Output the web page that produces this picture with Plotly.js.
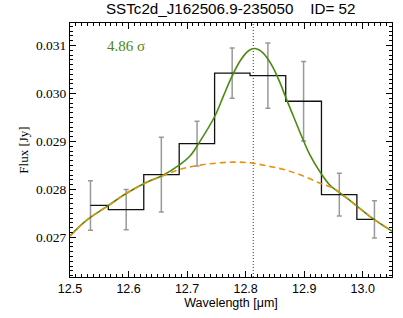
<!DOCTYPE html>
<html>
<head>
<meta charset="utf-8">
<script src="https://cdn.plot.ly/plotly-3.0.1.min.js"></script>
<style>html,body{margin:0;padding:0;background:#fff;}#chart{width:403px;height:318px;}</style>
</head>
<body>
<div id="chart"></div>
<script>
// Binned flux data (microns, Jy)
const wavelength = [12.535, 12.596, 12.656, 12.717, 12.777, 12.838, 12.899, 12.960, 13.020];
const flux = [0.027665, 0.027579, 0.028309, 0.028955, 0.030423, 0.030370, 0.029837, 0.027891, 0.027374];
const fluxErr = [0.000515, 0.000418, 0.000778, 0.000466, 0.000523, 0.000679, 0.000830, 0.000445, 0.000387];

// Fitted model (gaussian + continuum)
const fitX = [12.500, 12.528, 12.562, 12.596, 12.630, 12.659, 12.687, 12.705, 12.722, 12.748, 12.762, 12.777, 12.791, 12.805, 12.816, 12.830, 12.845, 12.859, 12.870, 12.882, 12.896, 12.910, 12.927, 12.944, 12.961, 12.978, 12.995, 13.012, 13.030, 13.050];
const fitY = [0.027031, 0.027355, 0.027634, 0.027914, 0.028144, 0.028296, 0.028510, 0.028695, 0.029000, 0.029540, 0.029945, 0.030365, 0.030685, 0.030890, 0.030935, 0.030841, 0.030580, 0.030214, 0.029870, 0.029515, 0.029097, 0.028714, 0.028365, 0.028087, 0.027926, 0.027770, 0.027603, 0.027439, 0.027286, 0.027130];

// Continuum only
const contX = [12.500, 12.528, 12.562, 12.596, 12.630, 12.659, 12.687, 12.713, 12.745, 12.777, 12.808, 12.836, 12.865, 12.893, 12.924, 12.950, 12.978, 13.012, 13.050];
const contY = [0.027031, 0.027355, 0.027634, 0.027914, 0.028140, 0.028285, 0.028415, 0.028488, 0.028541, 0.028568, 0.028553, 0.028491, 0.028415, 0.028307, 0.028144, 0.028018, 0.027770, 0.027439, 0.027130];

const lineCenter = 12.813;
const xTicks = [12.5, 12.6, 12.7, 12.8, 12.9, 13.0];
const xTickText = ['12.5', '12.6', '12.7', '12.8', '12.9', '13.0'];
const yTicks = [0.027, 0.028, 0.029, 0.030, 0.031];
const yTickText = ['0.027', '0.028', '0.029', '0.030', '0.031'];
const titleText = 'SSTc2d_J162506.9-235050\u00a0\u00a0\u00a0\u00a0ID= 52';
const sigmaText = '4.86 \u03c3';

const green = '#4a8a0c';
const orange = '#e8920f';

const traces = [
  {
    x: wavelength, y: flux, type: 'scatter', mode: 'lines',
    line: {shape: 'hvh', color: '#111', width: 1.3},
    error_y: {type: 'data', array: fluxErr, visible: true, color: '#999', thickness: 1.5, width: 2.5},
    hoverinfo: 'skip'
  },
  {
    x: fitX, y: fitY, type: 'scatter', mode: 'lines',
    line: {shape: 'spline', smoothing: 1, color: green, width: 1.6}
  },
  {
    x: contX, y: contY, type: 'scatter', mode: 'lines',
    line: {shape: 'spline', smoothing: 1, color: orange, width: 1.6, dash: '6px,4px'}
  }
];

const axisCommon = {
  showline: true, linecolor: '#000', linewidth: 1, mirror: 'allticks',
  ticks: 'inside', ticklen: 6, tickwidth: 1, tickcolor: '#000',
  showgrid: false, zeroline: false
};

const layout = {
  width: 403, height: 318,
  margin: {l: 70, r: 11, t: 23, b: 41, pad: 0},
  paper_bgcolor: '#fff', plot_bgcolor: '#fff',
  showlegend: false,
  title: {
    text: titleText, x: 0.5725, xanchor: 'center', y: 0.988, yanchor: 'top',
    font: {family: 'Liberation Sans, Arial, sans-serif', size: 15.2, color: '#000'}
  },
  xaxis: Object.assign({}, axisCommon, {
    range: [12.5, 13.05],
    tickmode: 'array', tickvals: xTicks, ticktext: xTickText,
    minor: {dtick: 0.01, ticklen: 3, tickwidth: 1, tickcolor: '#000', ticks: 'inside'},
    tickfont: {family: 'Liberation Sans, Arial, sans-serif', size: 12.5, color: '#000'},
    title: {text: 'Wavelength [\u03bcm]', standoff: 2,
      font: {family: 'Liberation Sans, Arial, sans-serif', size: 12.5, color: '#000'}}
  }),
  yaxis: Object.assign({}, axisCommon, {
    range: [0.026174, 0.031468],
    tickmode: 'array', tickvals: yTicks, ticktext: yTickText,
    minor: {dtick: 0.0001, ticklen: 3, tickwidth: 1, tickcolor: '#000', ticks: 'inside'},
    tickfont: {family: 'Liberation Serif, Times New Roman, serif', size: 13.5, color: '#000'},
    title: {text: 'Flux [Jy]', standoff: 4,
      font: {family: 'Liberation Serif, Times New Roman, serif', size: 13, color: '#000'}}
  }),
  shapes: [{
    type: 'line', xref: 'x', yref: 'paper', x0: lineCenter, x1: lineCenter, y0: 0, y1: 1,
    line: {color: '#333', width: 1, dash: '1px,2px'}, layer: 'below'
  }],
  annotations: [{
    text: sigmaText, xref: 'paper', yref: 'paper', x: 0.11, y: 0.91,
    xanchor: 'left', yanchor: 'middle', showarrow: false,
    font: {family: 'Liberation Serif, Times New Roman, serif', size: 15, color: green}
  }]
};

Plotly.newPlot('chart', traces, layout, {displayModeBar: false, staticPlot: true});
</script>
</body>
</html>
